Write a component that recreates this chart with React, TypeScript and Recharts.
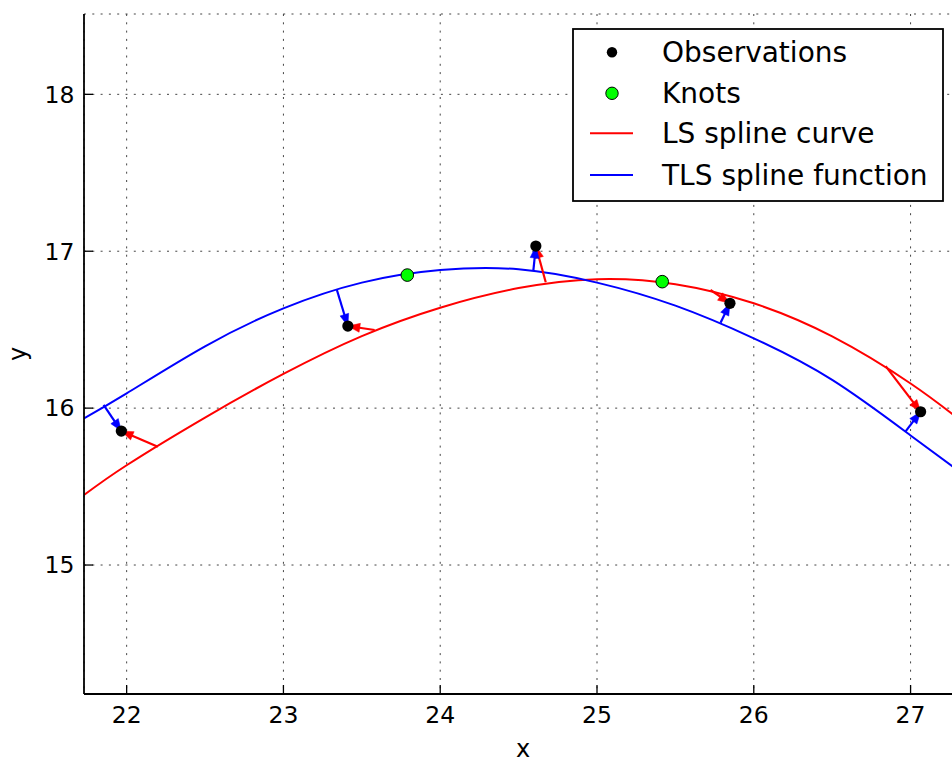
import React from 'react';
import {
  ComposedChart,
  Line,
  Scatter,
  XAxis,
  YAxis,
  CartesianGrid,
  ReferenceLine,
  Legend,
} from 'recharts';

// ---- data ----
const obsX = [21.966, 23.411, 24.61, 25.848, 27.064];
const obsY = [15.854, 16.523, 17.033, 16.668, 15.977];

const knotX = [23.79, 25.416];
const knotY = [16.848, 16.806];

// TLS spline function (blue)
const tlsX = [21.728, 22.0, 22.5, 23.0, 23.5, 24.0, 24.5, 25.0, 25.5, 26.0, 26.5, 27.0, 27.34];
const tlsY = [15.935, 16.094, 16.394, 16.636, 16.8, 16.88, 16.885, 16.8, 16.653, 16.445, 16.18, 15.826, 15.575];

// LS spline curve (red)
const lsX = [21.728, 22.0, 22.5, 23.0, 23.5, 24.0, 24.5, 25.0, 25.5, 26.0, 26.5, 27.0, 27.34];
const lsY = [15.446, 15.636, 15.94, 16.218, 16.459, 16.64, 16.765, 16.822, 16.79, 16.668, 16.457, 16.157, 15.905];

// arrow feet on the curves (arrows point to the observations)
const tlsFootX = [21.853, 23.341, 24.594, 25.788, 26.967];
const tlsFootY = [16.02, 16.753, 16.876, 16.544, 15.85];
const lsFootX = [22.199, 23.582, 24.673, 25.724, 26.841];
const lsFootY = [15.754, 16.498, 16.802, 16.753, 16.268];

const xTicks = [22, 23, 24, 25, 26, 27];
const yTicks = [15, 16, 17, 18];
const xDomain: [number, number] = [21.728, 27.328];
const yDomain: [number, number] = [14.178, 18.512];

const legendLabels = ['Observations', 'Knots', 'LS spline curve', 'TLS spline function'];

// ---- tables built from the arrays ----
const obsData = obsX.map((x, i) => ({ x, y: obsY[i] }));
const knotData = knotX.map((x, i) => ({ x, y: knotY[i] }));
const tlsData = tlsX.map((x, i) => ({ x, y: tlsY[i] }));
const lsData = lsX.map((x, i) => ({ x, y: lsY[i] }));

const FONT = '"DejaVu Sans", "Liberation Sans", sans-serif';
const RED = '#ff0000';
const BLUE = '#0000ff';
const GREEN = '#00ff00';

const makeArrow = (color: string) => (props: any) => {
  const { x1, y1, x2, y2 } = props;
  const dx = x2 - x1;
  const dy = y2 - y1;
  const len = Math.hypot(dx, dy) || 1;
  const ux = dx / len;
  const uy = dy / len;
  const hl = 12;
  const hw = 4.5;
  const bx = x2 - ux * hl;
  const by = y2 - uy * hl;
  const pts = `${x2},${y2} ${bx - uy * hw},${by + ux * hw} ${bx + uy * hw},${by - ux * hw}`;
  return (
    <g>
      <line x1={x1} y1={y1} x2={bx + ux * 2} y2={by + uy * 2} stroke={color} strokeWidth={2.2} />
      <polygon points={pts} fill={color} stroke={color} strokeWidth={0.5} />
    </g>
  );
};

const redArrow = makeArrow(RED);
const blueArrow = makeArrow(BLUE);

const ObsDot = (props: any) => <circle cx={props.cx} cy={props.cy} r={5.6} fill="#000" />;
const KnotDot = (props: any) => (
  <circle cx={props.cx} cy={props.cy} r={6.3} fill={GREEN} stroke="#000" strokeWidth={1} />
);

const LegendBox = () => {
  const rows = [24.3, 65.3, 105.3, 147];
  return (
    <svg width={373} height={176} style={{ display: 'block' }}>
      <rect x={1} y={1} width={370} height={172} fill="#fff" stroke="#000" strokeWidth={1.8} />
      <circle cx={40} cy={rows[0]} r={5.2} fill="#000" />
      <circle cx={40} cy={rows[1]} r={6.2} fill={GREEN} stroke="#000" strokeWidth={1} />
      <line x1={18} y1={rows[2]} x2={61} y2={rows[2]} stroke={RED} strokeWidth={2} />
      <line x1={18} y1={rows[3]} x2={61} y2={rows[3]} stroke={BLUE} strokeWidth={2} />
      {legendLabels.map((t, i) => (
        <text key={t} x={90} y={rows[i] + 10} fontSize={28} fontFamily={FONT} fill="#000">
          {t}
        </text>
      ))}
    </svg>
  );
};

const tickStyle = { fontSize: 23.5, fill: '#000', fontFamily: FONT };
const NoLabel = () => <g />;

export default function App() {
  return (
    <div style={{ position: 'absolute', left: 0, top: 0, width: 952, height: 762, overflow: 'hidden', background: '#fff' }}>
      <ComposedChart width={962} height={762} margin={{ top: 14, right: 0, bottom: 0, left: 0 }}>
        <CartesianGrid stroke="#444" strokeWidth={1} strokeDasharray="2 6.3" />
        <XAxis
          xAxisId={0}
          type="number"
          dataKey="x"
          domain={xDomain}
          allowDataOverflow
          ticks={xTicks}
          interval={0}
          height={68}
          tickSize={-9}
          tickMargin={21}
          tick={tickStyle}
          axisLine={{ stroke: '#000', strokeWidth: 1.8 }}
          tickLine={{ stroke: '#000', strokeWidth: 1.3 }}
          label={(p: any) => {
            const vb = p && p.viewBox;
            const cx = vb && typeof vb.x === 'number' ? vb.x + vb.width / 2 : 523;
            return (
              <text x={cx} y={757} textAnchor="middle" fontSize={24} fontFamily={FONT} fill="#000">
                x
              </text>
            );
          }}
        />
        <XAxis
          xAxisId="top"
          orientation="top"
          type="number"
          dataKey="x"
          domain={xDomain}
          allowDataOverflow
          ticks={xTicks}
          interval={0}
          height={0}
          tickSize={-9}
          tick={NoLabel}
          axisLine={{ stroke: '#000', strokeWidth: 1.8 }}
          tickLine={{ stroke: '#000', strokeWidth: 1.3 }}
        />
        <YAxis
          yAxisId={0}
          type="number"
          dataKey="y"
          domain={yDomain}
          allowDataOverflow
          ticks={yTicks}
          interval={0}
          width={84}
          tickSize={-9}
          tickMargin={18.5}
          tick={tickStyle}
          axisLine={{ stroke: '#000', strokeWidth: 1.8 }}
          tickLine={{ stroke: '#000', strokeWidth: 1.3 }}
          label={(p: any) => {
            const vb = p && p.viewBox;
            const cy = vb && typeof vb.y === 'number' ? vb.y + vb.height / 2 : 354;
            return (
              <text
                x={26}
                y={cy}
                textAnchor="middle"
                fontSize={24}
                fontFamily={FONT}
                fill="#000"
                transform={`rotate(-90, 26, ${cy})`}
              >
                y
              </text>
            );
          }}
        />
        <Line
          data={lsData}
          dataKey="y"
          type="natural"
          stroke={RED}
          strokeWidth={2}
          dot={false}
          activeDot={false}
          isAnimationActive={false}
        />
        <Line
          data={tlsData}
          dataKey="y"
          type="natural"
          stroke={BLUE}
          strokeWidth={2}
          dot={false}
          activeDot={false}
          isAnimationActive={false}
        />
        {obsX.map((x, i) => (
          <ReferenceLine
            key={`r${i}`}
            segment={[
              { x: lsFootX[i], y: lsFootY[i] },
              { x, y: obsY[i] },
            ]}
            ifOverflow="visible"
            shape={redArrow}
          />
        ))}
        {obsX.map((x, i) => (
          <ReferenceLine
            key={`b${i}`}
            segment={[
              { x: tlsFootX[i], y: tlsFootY[i] },
              { x, y: obsY[i] },
            ]}
            ifOverflow="visible"
            shape={blueArrow}
          />
        ))}
        <Scatter data={obsData} dataKey="y" shape={ObsDot} isAnimationActive={false} />
        <Scatter data={knotData} dataKey="y" shape={KnotDot} isAnimationActive={false} />
        <Legend
          layout="horizontal"
          verticalAlign="middle"
          align="center"
          wrapperStyle={{ position: 'absolute', left: 572, top: 28, width: 373, height: 176 }}
          content={() => <LegendBox />}
        />
      </ComposedChart>
    </div>
  );
}
